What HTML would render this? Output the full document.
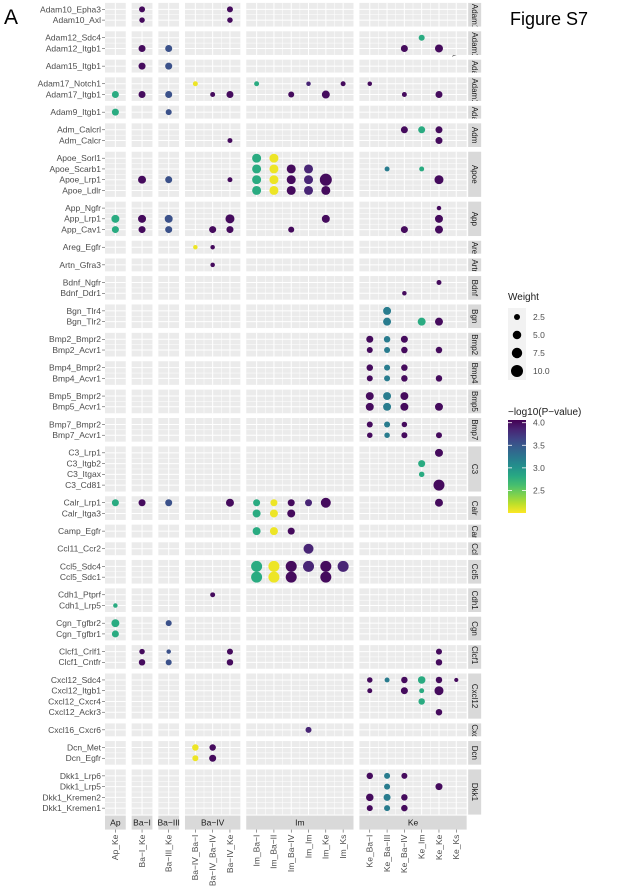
<!DOCTYPE html>
<html><head><meta charset="utf-8"><style>
html,body{margin:0;padding:0;background:#fff;}
svg{display:block;font-family:"Liberation Sans",sans-serif;}
</style></head><body>
<svg id="chart" width="622" height="892" viewBox="0 0 622 892" xmlns="http://www.w3.org/2000/svg">
<text x="4" y="24" font-size="21" fill="#000">A</text>
<text x="510" y="25" font-size="18" fill="#000">Figure S7</text>
<text x="452" y="52" font-size="7" fill="#555" transform="rotate(90 452 52)">A</text>
<g id="plot"></g>
<g id="legend"></g>
</svg>
<script>
const colFacets = ["Ap","Ba\u2212I","Ba\u2212III","Ba\u2212IV","Im","Ke"];
const colFacetSizes = [1,1,1,3,6,6];
const colLabels = ["Ap_Ke","Ba\u2212I_Ke","Ba\u2212III_Ke","Ba\u2212IV_Ba\u2212I","Ba\u2212IV_Ba\u2212IV","Ba\u2212IV_Ke","Im_Ba\u2212I","Im_Ba\u2212II","Im_Ba\u2212IV","Im_Im","Im_Ke","Im_Ks","Ke_Ba\u2212I","Ke_Ba\u2212III","Ke_Ba\u2212IV","Ke_Im","Ke_Ke","Ke_Ks"];
const rowFacets = ["Adam10","Adam12","Adam15","Adam17","Adam9","Adm","Apoe","App","Areg","Artn","Bdnf","Bgn","Bmp2","Bmp4","Bmp5","Bmp7","C3","Calr","Camp","Ccl11","Ccl5","Cdh1","Cgn","Clcf1","Cxcl12","Cxcl16","Dcn","Dkk1"];
const rowLabels = [
 ["Adam10_Epha3","Adam10_Axl"],["Adam12_Sdc4","Adam12_Itgb1"],["Adam15_Itgb1"],["Adam17_Notch1","Adam17_Itgb1"],["Adam9_Itgb1"],
 ["Adm_Calcrl","Adm_Calcr"],["Apoe_Sorl1","Apoe_Scarb1","Apoe_Lrp1","Apoe_Ldlr"],["App_Ngfr","App_Lrp1","App_Cav1"],["Areg_Egfr"],["Artn_Gfra3"],
 ["Bdnf_Ngfr","Bdnf_Ddr1"],["Bgn_Tlr4","Bgn_Tlr2"],["Bmp2_Bmpr2","Bmp2_Acvr1"],["Bmp4_Bmpr2","Bmp4_Acvr1"],["Bmp5_Bmpr2","Bmp5_Acvr1"],["Bmp7_Bmpr2","Bmp7_Acvr1"],
 ["C3_Lrp1","C3_Itgb2","C3_Itgax","C3_Cd81"],["Calr_Lrp1","Calr_Itga3"],["Camp_Egfr"],["Ccl11_Ccr2"],["Ccl5_Sdc4","Ccl5_Sdc1"],["Cdh1_Ptprf","Cdh1_Lrp5"],
 ["Cgn_Tgfbr2","Cgn_Tgfbr1"],["Clcf1_Crlf1","Clcf1_Cntfr"],["Cxcl12_Sdc4","Cxcl12_Itgb1","Cxcl12_Cxcr4","Cxcl12_Ackr3"],["Cxcl16_Cxcr6"],["Dcn_Met","Dcn_Egfr"],
 ["Dkk1_Lrp6","Dkk1_Lrp5","Dkk1_Kremen2","Dkk1_Kremen1"]];
// points: row label, column index, weight, -log10(p)
const pointRows = [
"Adam10_Epha3","Adam10_Epha3","Adam10_Axl","Adam10_Axl",
"Adam12_Sdc4","Adam12_Itgb1","Adam12_Itgb1","Adam12_Itgb1","Adam12_Itgb1",
"Adam15_Itgb1","Adam15_Itgb1",
"Adam17_Notch1","Adam17_Notch1","Adam17_Notch1","Adam17_Notch1","Adam17_Notch1",
"Adam17_Itgb1","Adam17_Itgb1","Adam17_Itgb1","Adam17_Itgb1","Adam17_Itgb1","Adam17_Itgb1","Adam17_Itgb1","Adam17_Itgb1","Adam17_Itgb1",
"Adam9_Itgb1","Adam9_Itgb1",
"Adm_Calcrl","Adm_Calcrl","Adm_Calcrl","Adm_Calcr","Adm_Calcr",
"Apoe_Sorl1","Apoe_Sorl1",
"Apoe_Scarb1","Apoe_Scarb1","Apoe_Scarb1","Apoe_Scarb1","Apoe_Scarb1","Apoe_Scarb1",
"Apoe_Lrp1","Apoe_Lrp1","Apoe_Lrp1","Apoe_Lrp1","Apoe_Lrp1","Apoe_Lrp1","Apoe_Lrp1","Apoe_Lrp1","Apoe_Lrp1",
"Apoe_Ldlr","Apoe_Ldlr","Apoe_Ldlr","Apoe_Ldlr","Apoe_Ldlr",
"App_Ngfr",
"App_Lrp1","App_Lrp1","App_Lrp1","App_Lrp1","App_Lrp1","App_Lrp1",
"App_Cav1","App_Cav1","App_Cav1","App_Cav1","App_Cav1","App_Cav1","App_Cav1","App_Cav1",
"Areg_Egfr","Areg_Egfr","Artn_Gfra3",
"Bdnf_Ngfr","Bdnf_Ddr1",
"Bgn_Tlr4","Bgn_Tlr2","Bgn_Tlr2","Bgn_Tlr2",
"Bmp2_Bmpr2","Bmp2_Bmpr2","Bmp2_Bmpr2","Bmp2_Acvr1","Bmp2_Acvr1","Bmp2_Acvr1","Bmp2_Acvr1",
"Bmp4_Bmpr2","Bmp4_Bmpr2","Bmp4_Bmpr2","Bmp4_Acvr1","Bmp4_Acvr1","Bmp4_Acvr1","Bmp4_Acvr1",
"Bmp5_Bmpr2","Bmp5_Bmpr2","Bmp5_Bmpr2","Bmp5_Acvr1","Bmp5_Acvr1","Bmp5_Acvr1","Bmp5_Acvr1",
"Bmp7_Bmpr2","Bmp7_Bmpr2","Bmp7_Bmpr2","Bmp7_Acvr1","Bmp7_Acvr1","Bmp7_Acvr1","Bmp7_Acvr1",
"C3_Lrp1","C3_Itgb2","C3_Itgax","C3_Cd81",
"Calr_Lrp1","Calr_Lrp1","Calr_Lrp1","Calr_Lrp1","Calr_Lrp1","Calr_Lrp1","Calr_Lrp1","Calr_Lrp1","Calr_Lrp1","Calr_Lrp1",
"Calr_Itga3","Calr_Itga3","Calr_Itga3",
"Camp_Egfr","Camp_Egfr","Camp_Egfr",
"Ccl11_Ccr2",
"Ccl5_Sdc4","Ccl5_Sdc4","Ccl5_Sdc4","Ccl5_Sdc4","Ccl5_Sdc4","Ccl5_Sdc4",
"Ccl5_Sdc1","Ccl5_Sdc1","Ccl5_Sdc1","Ccl5_Sdc1",
"Cdh1_Ptprf","Cdh1_Lrp5",
"Cgn_Tgfbr2","Cgn_Tgfbr2","Cgn_Tgfbr1",
"Clcf1_Crlf1","Clcf1_Crlf1","Clcf1_Crlf1","Clcf1_Crlf1","Clcf1_Cntfr","Clcf1_Cntfr","Clcf1_Cntfr","Clcf1_Cntfr",
"Cxcl12_Sdc4","Cxcl12_Sdc4","Cxcl12_Sdc4","Cxcl12_Sdc4","Cxcl12_Sdc4","Cxcl12_Sdc4",
"Cxcl12_Itgb1","Cxcl12_Itgb1","Cxcl12_Itgb1","Cxcl12_Itgb1",
"Cxcl12_Cxcr4","Cxcl12_Ackr3",
"Cxcl16_Cxcr6",
"Dcn_Met","Dcn_Met","Dcn_Egfr","Dcn_Egfr",
"Dkk1_Lrp6","Dkk1_Lrp6","Dkk1_Lrp6","Dkk1_Lrp5","Dkk1_Lrp5",
"Dkk1_Kremen2","Dkk1_Kremen2","Dkk1_Kremen2","Dkk1_Kremen1","Dkk1_Kremen1","Dkk1_Kremen1"];
const pointCols = [
1,5,1,5,
15,1,2,14,16,
1,2,
3,6,9,11,12,
0,1,2,4,5,8,10,14,16,
0,2,
14,15,16,5,16,
6,7,
6,7,8,9,13,15,
1,2,5,6,7,8,9,10,16,
6,7,8,9,10,
16,
0,1,2,5,10,16,
0,1,2,4,5,8,14,16,
3,4,4,
16,14,
13,13,15,16,
12,13,14,12,13,14,16,
12,13,14,12,13,14,16,
12,13,14,12,13,14,16,
12,13,14,12,13,14,16,
16,15,15,16,
0,1,2,5,6,7,8,9,10,16,
6,7,8,
6,7,8,
9,
6,7,8,9,10,11,
6,7,8,10,
4,0,
0,2,0,
1,2,5,16,1,2,5,16,
12,13,14,15,16,17,
12,14,15,16,
15,16,
9,
3,4,3,4,
12,13,14,13,16,
12,13,14,12,13,14];
const pointWeights = [
2.5,2.5,2.1,2.1,
2.5,3.4,3.4,3.4,4.4,
3.4,3.4,
1.7,1.7,1.4,1.7,1.4,
3.4,3.4,3.4,1.7,3.4,2.5,4.4,1.7,3.4,
3.4,2.5,
3.4,3.4,3.4,1.7,3.4,
5.6,5.6,
5.6,5.6,5.6,5.6,1.7,1.7,
4.4,3.4,1.7,5.6,5.6,5.6,5.6,10,5.6,
5.6,5.6,5.6,5.6,5.6,
1.4,
4.4,4.4,4.4,5.6,4.4,4.4,
3.4,3.4,3.4,3.4,3.4,2.5,3.4,4.4,
1.4,1.4,1.4,
1.7,1.4,
4.4,4.4,4.4,4.4,
3.4,2.9,3.4,2.5,2.5,2.9,2.9,
2.9,2.5,2.9,2.5,2.5,2.9,2.9,
4.4,4.4,4.4,4.4,4.4,4.4,4.4,
2.5,2.5,2.1,2.1,2.1,2.5,2.5,
4.4,3.4,2.1,8.4,
3.4,3.4,3.4,4.4,3.4,3.4,3.4,3.4,6.9,4.4,
4.4,4.4,4.4,
4.4,4.4,3.4,
6.9,
8.4,8.4,8.4,8.4,8.4,8.4,
8.4,8.4,8.4,8.4,
1.7,1.4,
4.4,2.5,3.4,
2.1,1.4,2.5,2.5,2.9,2.5,2.9,2.9,
2.1,1.7,2.9,3.9,2.9,1.2,
1.7,3.4,1.7,5.6,
2.9,2.9,
2.5,
2.9,2.9,2.5,3.4,
2.9,2.5,2.5,2.5,3.4,
3.9,3.4,2.9,2.5,2.5,2.9];
const pointValues = [
4,4,4,4,
2.8,4,3.55,4,4,
4,3.55,
2.05,2.8,3.85,4,4,
2.8,4,3.55,4,4,4,4,4,4,
2.8,3.55,
4,2.8,4,4,4,
2.8,2.05,
2.8,2.05,4,3.85,3.2,2.8,
4,3.55,4,2.8,2.05,4,3.85,4,4,
2.8,2.05,4,3.85,4,
4,
2.8,4,3.55,4,4,4,
2.8,4,3.55,4,4,4,4,4,
2.05,4,4,
4,4,
3.2,3.2,2.8,4,
4,3.2,4,4,3.2,4,4,
4,3.2,4,4,3.2,4,4,
4,3.2,4,4,3.2,4,4,
4,3.2,4,4,3.2,4,4,
4,2.8,2.8,4,
2.8,4,3.55,4,2.8,2.05,4,3.85,4,4,
2.8,2.05,4,
2.8,2.05,4,
3.85,
2.8,2.05,4,3.85,4,3.85,
2.8,2.05,4,4,
4,2.8,
2.8,3.55,2.8,
4,3.55,4,4,4,3.55,4,4,
4,3.2,4,2.8,4,4,
4,4,2.8,4,
2.8,4,
3.85,
2.05,4,2.05,4,
4,3.2,4,3.2,4,
4,3.2,4,4,3.2,4];
const legendWeights = [2.5,5.0,7.5,10.0];
const colorTicks = [4.0,3.5,3.0,2.5];

const NS="http://www.w3.org/2000/svg";
const plot=document.getElementById('plot');
function mk(tag,attrs,parent){const e=document.createElementNS(NS,tag);for(const k in attrs)e.setAttribute(k,attrs[k]);(parent||plot).appendChild(e);return e;}
const VMIN=2.0,VMAX=4.06;
const vir=[[68,1,84],[72,40,120],[62,74,137],[49,104,142],[38,130,142],[31,158,137],[53,183,121],[110,206,88],[181,222,43],[253,231,37]];
function color(v){let t=(VMAX-v)/(VMAX-VMIN);t=Math.max(0,Math.min(1,t));const p=t*(vir.length-1);const i=Math.min(vir.length-2,Math.floor(p));const f=p-i;const c=vir[i].map((a,j)=>Math.round(a+(vir[i+1][j]-a)*f));return `rgb(${c[0]},${c[1]},${c[2]})`;}
function diam(w){return 3.8*Math.sqrt(w);}
const XL=105,XS=17.3,XG=5.9;
const colX=[],facetX=[];
{let x=XL;colFacetSizes.forEach(n=>{const w=(n+0.2)*XS;facetX.push([x,w]);for(let i=0;i<n;i++){colX.push(x+0.6*XS+i*XS);}x+=w+XG;});}
const YT=2.9,YS=10.75,YG=4.74;
const rowY={},facetY=[];
{let y=YT;rowLabels.forEach(rs=>{const h=(rs.length+0.2)*YS;facetY.push([y,h]);rs.forEach((r,i)=>rowY[r]=y+0.6*YS+i*YS);y+=h+YG;});}
facetY.forEach((fy,ri)=>{facetX.forEach((fx,ci)=>{
 const g=mk('g',{});
 
 
 mk('rect',{x:fx[0],y:fy[0],width:fx[1],height:fy[1],fill:'#ebebeb'},g);
 const n=colFacetSizes[ci],m=rowLabels[ri].length;
 for(let i=0;i<n;i++){const x=fx[0]+0.6*XS+i*XS;mk('line',{x1:x,x2:x,y1:fy[0],y2:fy[0]+fy[1],stroke:'#fff','stroke-width':1},g);
   if(i<n-1)mk('line',{x1:x+XS/2,x2:x+XS/2,y1:fy[0],y2:fy[0]+fy[1],stroke:'#fff','stroke-width':0.5},g);}
 for(let j=0;j<m;j++){const y=fy[0]+0.6*YS+j*YS;mk('line',{x1:fx[0],x2:fx[0]+fx[1],y1:y,y2:y,stroke:'#fff','stroke-width':1},g);
   if(j<m-1)mk('line',{x1:fx[0],x2:fx[0]+fx[1],y1:y+YS/2,y2:y+YS/2,stroke:'#fff','stroke-width':0.5},g);}
});});
const lastX=facetX[facetX.length-1];const SX=lastX[0]+lastX[1]+1.5;
facetY.forEach((fy,ri)=>{
 const g=mk('g',{});
 
 
 const cid='clip'+ri;const cp=mk('clipPath',{id:cid},g);mk('rect',{x:SX,y:fy[0],width:13,height:fy[1]},cp);
 mk('rect',{x:SX,y:fy[0],width:13,height:fy[1],fill:'#d9d9d9'},g);
 const lab=rowFacets[ri];const tw=lab.length*4.6;
 const fits=tw<fy[1]-2;
 const cx=SX+6.5,cy=fits?fy[0]+fy[1]/2:fy[0]+1;
 const gc=mk('g',{'clip-path':`url(#${cid})`},g);
 const t=mk('text',{x:cx,y:cy,'font-size':8,fill:'#1a1a1a','text-anchor':fits?'middle':'start','dominant-baseline':'central',transform:`rotate(90 ${cx} ${cy})`},gc);
 t.textContent=lab;
});
Object.keys(rowY).forEach(r=>{const y=rowY[r];
 const t=mk('text',{x:101,y:y+2.9,'font-size':8.5,fill:'#4d4d4d','text-anchor':'end'});
 
 
 t.textContent=r;
 mk('line',{x1:102,x2:105,y1:y,y2:y,stroke:'#333','stroke-width':0.5});
});
const lastY=facetY[facetY.length-1];const SY=lastY[0]+lastY[1]+1;
facetX.forEach((fx,ci)=>{
 const g=mk('g',{});
 
 
 mk('rect',{x:fx[0],y:SY,width:fx[1],height:14,fill:'#d9d9d9'},g);
 const t=mk('text',{x:fx[0]+fx[1]/2,y:SY+10,'font-size':8.5,fill:'#1a1a1a','text-anchor':'middle'},g);t.textContent=colFacets[ci];
});
colX.forEach((x,i)=>{
 mk('line',{x1:x,x2:x,y1:SY+14,y2:SY+17,stroke:'#333','stroke-width':0.5});
 const y=SY+19;
 const t=mk('text',{x:x+2.8,y:y,'font-size':8.5,fill:'#4d4d4d','text-anchor':'end',transform:`rotate(-90 ${x+2.8} ${y})`});
 
 
 t.textContent=colLabels[i];
});
pointRows.forEach((r,i)=>{
 const c=mk('circle',{cx:colX[pointCols[i]],cy:rowY[r],r:diam(pointWeights[i])/2,fill:color(pointValues[i])});
 
 
});
const lg=document.getElementById('legend');
mk('text',{x:508,y:300,'font-size':10,fill:'#1a1a1a'},lg).textContent='Weight';
const ky=[317,335,353,371];
legendWeights.forEach((w,i)=>{
 mk('rect',{x:508,y:ky[i]-9,width:18,height:18,fill:'#f2f2f2'},lg);
 const c=mk('circle',{cx:517,cy:ky[i],r:diam(w)/2,fill:'#000'},lg);
 
 
 mk('text',{x:533,y:ky[i]+3,'font-size':8.5,fill:'#4d4d4d'},lg).textContent=w.toFixed(1);
});
mk('text',{x:508,y:415,'font-size':10,fill:'#1a1a1a'},lg).textContent='\u2212log10(P\u2212value)';
const CB0=420,CB1=513;
const defs=mk('defs',{},lg);const gr=mk('linearGradient',{id:'vg',x1:0,y1:0,x2:0,y2:1},defs);
for(let k=0;k<=10;k++){const v=VMAX-(VMAX-VMIN)*k/10;mk('stop',{offset:(k*10)+'%','stop-color':color(v)},gr);}
const cb=mk('rect',{x:508,y:CB0,width:18,height:CB1-CB0,fill:'url(#vg)'},lg);


function cy(v){return CB0+(VMAX-v)/(VMAX-VMIN)*(CB1-CB0);}
colorTicks.forEach(v=>{const y=cy(v);
 mk('line',{x1:508,x2:512,y1:y,y2:y,stroke:'#fff','stroke-width':0.8},lg);
 mk('line',{x1:522,x2:526,y1:y,y2:y,stroke:'#fff','stroke-width':0.8},lg);
 mk('text',{x:533,y:y+3,'font-size':8.5,fill:'#4d4d4d'},lg).textContent=v.toFixed(1);
});
</script>
</body></html>
